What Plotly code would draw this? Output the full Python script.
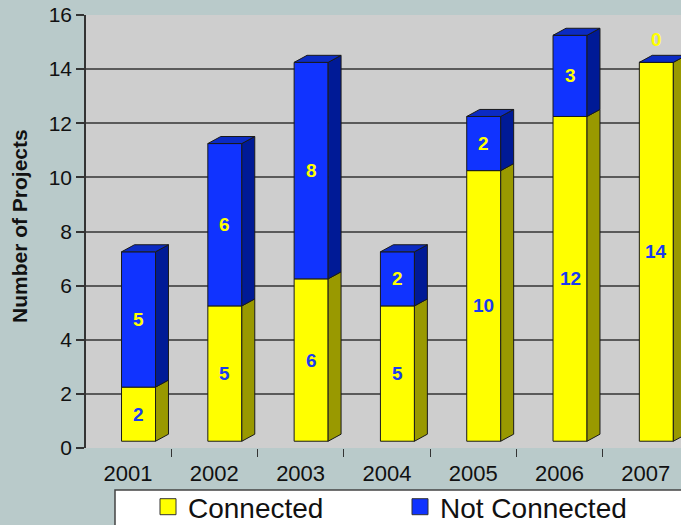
import plotly.graph_objects as go

# ---------------- data ----------------
years = ["2001", "2002", "2003", "2004", "2005", "2006", "2007"]
connected = [2, 5, 6, 5, 10, 12, 14]
not_connected = [5, 6, 8, 2, 2, 3, 0]
y_tick_vals = [0, 2, 4, 6, 8, 10, 12, 14, 16]
series_names = ["Connected", "Not Connected"]

# ---------------- styling / layout constants ----------------
W, H = 681, 525
ML, MR, MT, MB = 86, 0, 15, 77
plot_w = W - ML - MR
plot_h = H - MT - MB
px_per_cat = 86.3
cat0_px = 128
x_lo = -(cat0_px - ML) / px_per_cat
x_hi = x_lo + plot_w / px_per_cat

BAR_SHIFT = 0.122
BAR_W = 0.394
DEPTH_X = 0.15
DEPTH_Y = 0.26
LIFT = 0.25

YEL = "#ffff00"
YEL_SIDE = "#999900"
BLU = "#1033ff"
BLU_SIDE = "#001a96"
BLU_TOP = "#0b2bc4"
EDGE = "#1a1a1a"
FONT = "Liberation Sans, Arial, sans-serif"

n = len(years)
pos = [i + BAR_SHIFT for i in range(n)]
base_c = [LIFT for _ in range(n)]
base_n = [LIFT + c for c in connected]

fig = go.Figure()


def side_polys(bases, vals):
    xs, ys = [], []
    for p, b, v in zip(pos, bases, vals):
        if v <= 0:
            continue
        xr = p + BAR_W / 2
        xs += [xr, xr + DEPTH_X, xr + DEPTH_X, xr, xr, None]
        ys += [b, b + DEPTH_Y, b + v + DEPTH_Y, b + v, b, None]
    return xs, ys


def top_polys(tops):
    xs, ys = [], []
    for p, t in zip(pos, tops):
        xl = p - BAR_W / 2
        xr = p + BAR_W / 2
        xs += [xl, xl + DEPTH_X, xr + DEPTH_X, xr, xl, None]
        ys += [t, t + DEPTH_Y, t + DEPTH_Y, t, t, None]
    return xs, ys


# front faces
fig.add_trace(go.Bar(x=pos, y=connected, base=base_c, width=BAR_W,
                     marker=dict(color=YEL, line=dict(color=EDGE, width=1)),
                     showlegend=False, hoverinfo="skip"))
fig.add_trace(go.Bar(x=pos, y=not_connected, base=base_n, width=BAR_W,
                     marker=dict(color=BLU, line=dict(color=EDGE, width=1)),
                     showlegend=False, hoverinfo="skip"))

# side faces
sx, sy = side_polys(base_c, connected)
fig.add_trace(go.Scatter(x=sx, y=sy, mode="lines", fill="toself", fillcolor=YEL_SIDE,
                         line=dict(color=EDGE, width=1), showlegend=False, hoverinfo="skip"))
sx, sy = side_polys(base_n, not_connected)
fig.add_trace(go.Scatter(x=sx, y=sy, mode="lines", fill="toself", fillcolor=BLU_SIDE,
                         line=dict(color=EDGE, width=1), showlegend=False, hoverinfo="skip"))
# top faces
tops = [LIFT + c + u for c, u in zip(connected, not_connected)]
tx, ty = top_polys(tops)
fig.add_trace(go.Scatter(x=tx, y=ty, mode="lines", fill="toself", fillcolor=BLU_TOP,
                         line=dict(color=EDGE, width=1), showlegend=False, hoverinfo="skip"))

# legend entries
for name, col in zip(series_names, [YEL, BLU]):
    fig.add_trace(go.Scatter(x=[None], y=[None], mode="markers", name=name,
                             marker=dict(symbol="square", size=16, color=col,
                                         line=dict(color="#333333", width=1))))

# value labels
annotations = []
for p, b, v in zip(pos, base_c, connected):
    annotations.append(dict(x=p, y=b + v / 2, text=f"<b>{v}</b>", showarrow=False,
                            font=dict(family=FONT, size=19, color="#1a3cf0")))
for p, b, v in zip(pos, base_n, not_connected):
    yy = b + v / 2 if v > 0 else b + 0.85
    annotations.append(dict(x=p, y=yy, text=f"<b>{v}</b>", showarrow=False,
                            font=dict(family=FONT, size=19, color=YEL)))

annotations.append(dict(xref="paper", yref="paper", x=(19 - ML) / plot_w,
                        y=(H - MB - 226) / plot_h, text="<b>Number of Projects</b>",
                        textangle=-90, showarrow=False, xanchor="center", yanchor="middle",
                        font=dict(family=FONT, size=21, color="#111111")))

shapes = [dict(type="rect", xref="paper", yref="paper",
               x0=(115 - ML) / plot_w, x1=(W + 20 - ML) / plot_w,
               y0=(H - MB - 490) / plot_h, y1=(H - MB - H - 20) / plot_h,
               fillcolor="white", line=dict(color="#444444", width=1.5), layer="below")]

fig.update_layout(
    width=W, height=H,
    margin=dict(l=ML, r=MR, t=MT, b=MB, autoexpand=False),
    paper_bgcolor="#b9caca",
    plot_bgcolor="#cecece",
    barmode="overlay",
    font=dict(family=FONT, color="#111111"),
    annotations=annotations,
    shapes=shapes,
    showlegend=True,
    legend=dict(orientation="h", x=(148 - ML) / plot_w, xanchor="left",
                y=(H - MB - 482) / plot_h, yanchor="top",
                bgcolor="rgba(0,0,0,0)", font=dict(family=FONT, size=28, color="#111111"),
                entrywidth=207, entrywidthmode="pixels"),
    xaxis=dict(range=[x_lo, x_hi], tickvals=list(range(n)), ticktext=years,
               ticks="", showgrid=False, zeroline=False, showline=False,
               ticklabelstandoff=10,
               tickfont=dict(family=FONT, size=22, color="#111111"),
               minor=dict(tick0=0.5, dtick=1, ticks="outside", ticklen=8,
                          tickcolor="#333333", tickwidth=1, showgrid=False)),
    yaxis=dict(range=[0, 16], tickvals=y_tick_vals, ticks="outside", ticklen=8,
               tickcolor="#333333", tickwidth=1.5,
               showgrid=True, gridcolor="#5a5a5a", gridwidth=1.5, zeroline=False,
               showline=True, linecolor="#333333", linewidth=1.5,
               tickfont=dict(family=FONT, size=21, color="#111111")),
)

fig.write_html("out.html", post_script="document.body.style.margin='0';",
               config={"displayModeBar": False})
